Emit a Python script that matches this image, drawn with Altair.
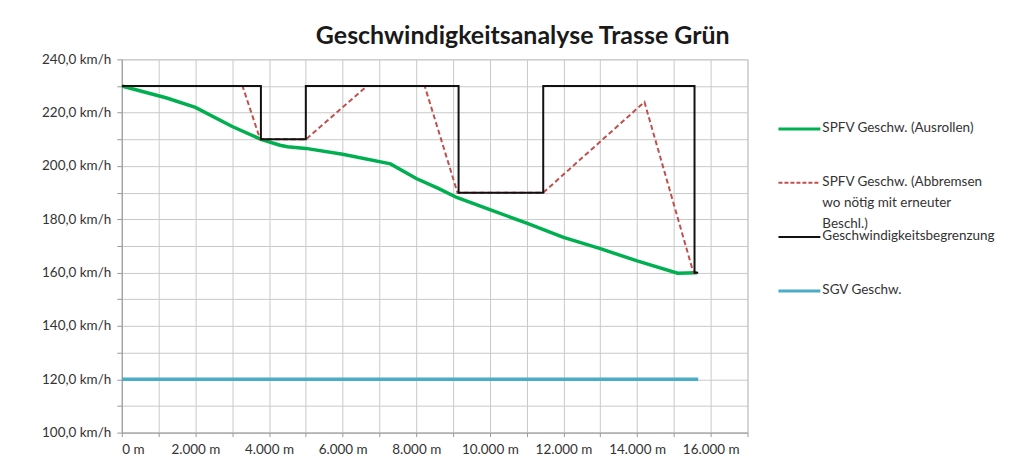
import altair as alt
import pandas as pd

# ---------------- data ----------------
series_names = [
    "SPFV Geschw. (Ausrollen)",
    "SPFV Geschw. (Abbremsen wo nötig mit erneuter Beschl.)",
    "Geschwindigkeitsbegrenzung",
    "SGV Geschw.",
]

green_x = [0, 1200, 2000, 3000, 3780, 4300, 4500, 5000, 6000, 7300, 8000, 8600, 9100, 10000, 11000, 12000, 13000, 14000, 15100, 15620]
green_y = [230, 225.6, 222, 214.8, 210, 207.8, 207.2, 206.6, 204.4, 200.8, 195.3, 191.6, 188.2, 183.6, 178.6, 173.2, 169.0, 164.4, 159.8, 160]

red_x = [0, 3280, 3760, 5000, 6660, 8230, 9120, 11450, 14200, 15530, 15620]
red_y = [230, 230, 210, 210, 230, 230, 190, 190, 224, 160, 160]

lim_x = [0, 3780, 3780, 5000, 5000, 9150, 9150, 11450, 11450, 15560, 15560, 15660]
lim_y = [230, 230, 210, 210, 230, 230, 190, 190, 230, 230, 160, 160]

sgv_x = [0, 15660]
sgv_y = [120, 120]

colors = ["#00b050", "#c0504d", "#111111", "#4bacc6"]
widths = [3.5, 2, 2, 3.5]
dashes = [None, [5, 3], None, None]

legend_labels = [
    "SPFV Geschw. (Ausrollen)",
    "SPFV Geschw. (Abbremsen\nwo nötig mit erneuter\nBeschl.)",
    "Geschwindigkeitsbegrenzung",
    "SGV Geschw.",
]
legend_slot = [1.295, 2.29, 3.30, 4.30]

x_ticks = list(range(0, 17001, 1000))
y_ticks = list(range(100, 241, 10))

# ---------------- build table ----------------
rows = []
for name, xs, ys in zip(series_names, [green_x, red_x, lim_x, sgv_x], [green_y, red_y, lim_y, sgv_y]):
    for i, (xv, yv) in enumerate(zip(xs, ys)):
        rows.append({"series": name, "dist": xv, "speed": yv, "order": i})
df = pd.DataFrame(rows)

FONT = "Lato"
GRID = "#c9c9c9"

xaxis = alt.Axis(
    values=x_ticks,
    labelExpr="datum.value % 2000 == 0 ? replace(format(datum.value, ',d'), ',', '.') + ' m' : ''",
    title=None, grid=True, gridColor=GRID, gridWidth=1,
    domainColor="#9a9a9a", tickColor="#9a9a9a", tickSize=4,
    labelFont=FONT, labelFontSize=13.5, labelColor="#333333", labelPadding=6,
)
yaxis = alt.Axis(
    values=y_ticks,
    labelExpr="datum.value % 20 == 0 ? replace(format(datum.value, '.1f'), '.', ',') + ' km/h' : ''",
    title=None, grid=True, gridColor=GRID, gridWidth=1,
    domainColor="#9a9a9a", tickColor="#9a9a9a", tickSize=5,
    labelFont=FONT, labelFontSize=13.5, labelColor="#333333", labelPadding=6,
)

base = alt.Chart(df).encode(
    x=alt.X("dist:Q", scale=alt.Scale(domain=[0, 17000], nice=False, zero=False), axis=xaxis),
    y=alt.Y("speed:Q", scale=alt.Scale(domain=[100, 240], nice=False, zero=False), axis=yaxis),
    order="order:Q",
)

layers = []
for name, c, w, d in zip(series_names, colors, widths, dashes):
    kw = dict(color=c, strokeWidth=w, clip=True)
    if d is not None:
        kw["strokeDash"] = d
    layers.append(base.transform_filter(alt.datum.series == name).mark_line(**kw))

main = alt.layer(*layers).properties(
    width=627, height=374, view=alt.ViewBackground(stroke=GRID)
)

# ---------------- legend panel ----------------
leg_df = pd.DataFrame({
    "label": legend_labels,
    "slot": legend_slot,
})
ly = alt.Y("slot:Q", scale=alt.Scale(domain=[0, 6.93], reverse=True, nice=False, zero=False), axis=None)

leg_layers = []
for i in range(len(legend_labels)):
    kw = dict(color=colors[i], strokeWidth=widths[i] if widths[i] < 3 else 3)
    if dashes[i] is not None:
        kw["strokeDash"] = [4, 2]
    leg_layers.append(
        alt.Chart(leg_df.iloc[[i]]).mark_rule(**kw).encode(
            x=alt.value(29), x2=alt.value(71), y=ly
        )
    )
leg_text = alt.Chart(leg_df).mark_text(
    align="left", baseline="top", dy=-8, font=FONT, fontSize=13.5,
    color="#333333", lineBreak="\n", lineHeight=21,
).encode(x=alt.value(73), y=ly, text="label:N")

legend = alt.layer(*leg_layers, leg_text).properties(
    width=255, height=374, view=alt.ViewBackground(stroke="transparent")
)

chart = alt.hconcat(main, legend, spacing=0).properties(
    title=alt.TitleParams(
        "Geschwindigkeitsanalyse Trasse Grün", font=FONT, fontSize=25,
        fontWeight="bold", color="#1a1a1a", anchor="middle", offset=3,
    ),
    padding={"left": 33, "top": 15, "right": 5, "bottom": 5},
    background="white",
).configure_concat(spacing=0)

chart.save("out.html", embed_options={"renderer": "svg", "actions": False})
